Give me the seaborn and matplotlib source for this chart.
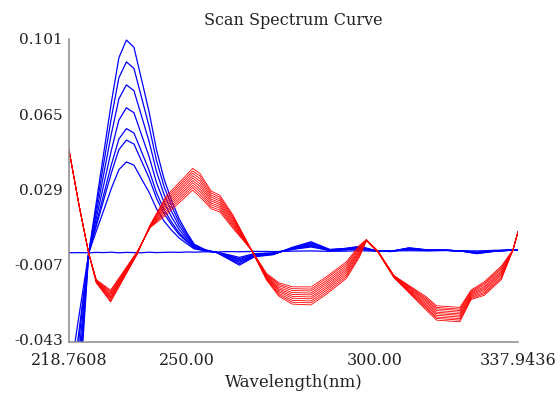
import matplotlib
matplotlib.use("Agg")
import matplotlib.pyplot as plt
import pandas as pd
import seaborn as sns

# ---------------- data ----------------
blue_wavelengths = [218.7608, 221, 224, 226, 228, 230, 232, 234, 236, 238, 240, 242, 244, 246, 248,
                    250, 252, 255, 258, 261, 264, 268, 273, 278, 283, 288, 292, 296, 300, 304,
                    309, 314, 319, 323, 327, 332, 337.9436]

blue_flat = [-0.0016, -0.0015, -0.0016, -0.0014, -0.0015, -0.0013, -0.0016, -0.0014, -0.0015, -0.0016,
             -0.0013, -0.0015, -0.0014, -0.0013, -0.0014, -0.0012, -0.0013, -0.0011, -0.0012, -0.0010,
             -0.0011, -0.0009, -0.0010, -0.0008, -0.0007, -0.0009, -0.0008, -0.0006, -0.0008, -0.0007,
             -0.0006, -0.0007, -0.0005, -0.0006, -0.0007, -0.0004, -0.0003]

blue_peaked = [
    [-0.150, -0.084, -0.0016, 0.0225, 0.0465, 0.0705, 0.0920, 0.1005, 0.0970, 0.0817, 0.0662, 0.0477,
     0.0338, 0.0234, 0.0147, 0.0082, 0.0025, -0.0002, -0.0015, -0.0045, -0.0075, -0.0035, -0.0025,
     0.0010, 0.0037, 0.0000, 0.0005, 0.0015, -0.0005, -0.0010, 0.0008, -0.0002, -0.0004, -0.0008,
     -0.0020, -0.0008, -0.0002],
    [-0.1347, -0.0755, -0.0016, 0.0200, 0.0416, 0.0631, 0.0824, 0.0900, 0.0869, 0.0731, 0.0592, 0.0426,
     0.0302, 0.0209, 0.0130, 0.0072, 0.0021, -0.0003, -0.0015, -0.0041, -0.0068, -0.0032, -0.0023,
     0.0008, 0.0032, -0.0001, 0.0004, 0.0013, -0.0005, -0.0010, 0.0007, -0.0003, -0.0004, -0.0008,
     -0.0019, -0.0008, -0.0002],
    [-0.1187, -0.0666, -0.0016, 0.0175, 0.0364, 0.0554, 0.0723, 0.0790, 0.0762, 0.0641, 0.0520, 0.0373,
     0.0264, 0.0182, 0.0113, 0.0062, 0.0017, -0.0004, -0.0014, -0.0038, -0.0061, -0.0030, -0.0022,
     0.0006, 0.0028, -0.0002, 0.0002, 0.0011, -0.0006, -0.0009, 0.0005, -0.0003, -0.0004, -0.0008,
     -0.0017, -0.0007, -0.0002],
    [-0.1027, -0.0577, -0.0016, 0.0149, 0.0312, 0.0476, 0.0621, 0.0680, 0.0656, 0.0551, 0.0447, 0.0320,
     0.0226, 0.0155, 0.0096, 0.0052, 0.0013, -0.0005, -0.0014, -0.0034, -0.0055, -0.0027, -0.0020,
     0.0004, 0.0023, -0.0003, 0.0001, 0.0008, -0.0006, -0.0009, 0.0004, -0.0004, -0.0004, -0.0007,
     -0.0016, -0.0007, -0.0002],
    [-0.0881, -0.0496, -0.0016, 0.0125, 0.0265, 0.0406, 0.0530, 0.0580, 0.0559, 0.0470, 0.0381, 0.0272,
     0.0191, 0.0131, 0.0080, 0.0043, 0.0009, -0.0006, -0.0014, -0.0030, -0.0048, -0.0024, -0.0019,
     0.0002, 0.0019, -0.0004, 0.0000, 0.0006, -0.0006, -0.0009, 0.0002, -0.0004, -0.0004, -0.0007,
     -0.0015, -0.0006, -0.0002],
    [-0.0801, -0.0451, -0.0016, 0.0112, 0.0239, 0.0367, 0.0479, 0.0525, 0.0506, 0.0425, 0.0344, 0.0245,
     0.0172, 0.0118, 0.0071, 0.0038, 0.0007, -0.0006, -0.0014, -0.0029, -0.0045, -0.0023, -0.0018,
     0.0002, 0.0016, -0.0004, -0.0001, 0.0005, -0.0006, -0.0009, 0.0001, -0.0004, -0.0004, -0.0007,
     -0.0014, -0.0006, -0.0002],
    [-0.0648, -0.0366, -0.0016, 0.0088, 0.0189, 0.0293, 0.0383, 0.0420, 0.0405, 0.0339, 0.0275, 0.0195,
     0.0136, 0.0092, 0.0055, 0.0028, 0.0003, -0.0007, -0.0013, -0.0025, -0.0038, -0.0020, -0.0016,
     0.0000, 0.0012, -0.0005, -0.0002, 0.0003, -0.0007, -0.0008, 0.0000, -0.0005, -0.0004, -0.0007,
     -0.0013, -0.0006, -0.0002],
]

red_wavelengths = [218.7608, 221.5, 224, 226, 229.8, 236.8, 240.3, 244.5, 251.6, 253.5, 256.5, 258.8,
                   262.3, 267.2, 271.2, 274.5, 278, 283, 287, 292.4, 295.9, 297.7, 300.8, 305,
                   313.6, 316.3, 322.5, 325.5, 329, 333.5, 336.6, 337.9436]

red_curves = [
    [0.0477, 0.0205, -0.0019, -0.0145, -0.0195, -0.0012, 0.0105, 0.0165, 0.0285, 0.0253, 0.0195, 0.0180,
     0.0101, -0.0003, -0.0115, -0.0160, -0.0179, -0.0180, -0.0132, -0.0059, 0.0021, 0.0047, -0.0008,
     -0.0125, -0.0227, -0.0270, -0.0278, -0.0195, -0.0155, -0.0080, -0.0003, 0.0085],
    [0.0477, 0.0205, -0.0019, -0.0147, -0.0201, -0.0013, 0.0106, 0.0175, 0.0297, 0.0265, 0.0204, 0.0189,
     0.0108, -0.0003, -0.0119, -0.0167, -0.0188, -0.0190, -0.0141, -0.0068, 0.0015, 0.0047, -0.0009,
     -0.0126, -0.0234, -0.0278, -0.0286, -0.0200, -0.0162, -0.0087, -0.0003, 0.0085],
    [0.0477, 0.0205, -0.0019, -0.0148, -0.0208, -0.0015, 0.0108, 0.0185, 0.0308, 0.0278, 0.0214, 0.0198,
     0.0115, -0.0003, -0.0122, -0.0174, -0.0197, -0.0199, -0.0151, -0.0077, 0.0009, 0.0046, -0.0009,
     -0.0127, -0.0241, -0.0285, -0.0293, -0.0205, -0.0169, -0.0094, -0.0003, 0.0085],
    [0.0477, 0.0205, -0.0019, -0.0150, -0.0214, -0.0016, 0.0109, 0.0195, 0.0320, 0.0290, 0.0223, 0.0207,
     0.0122, -0.0003, -0.0126, -0.0182, -0.0207, -0.0209, -0.0160, -0.0086, 0.0002, 0.0046, -0.0010,
     -0.0128, -0.0248, -0.0293, -0.0301, -0.0210, -0.0177, -0.0102, -0.0003, 0.0085],
    [0.0477, 0.0205, -0.0019, -0.0152, -0.0220, -0.0018, 0.0111, 0.0205, 0.0331, 0.0303, 0.0233, 0.0216,
     0.0129, -0.0003, -0.0129, -0.0189, -0.0216, -0.0218, -0.0169, -0.0095, -0.0004, 0.0045, -0.0011,
     -0.0129, -0.0255, -0.0301, -0.0309, -0.0215, -0.0184, -0.0109, -0.0003, 0.0085],
    [0.0477, 0.0205, -0.0019, -0.0153, -0.0227, -0.0019, 0.0112, 0.0215, 0.0343, 0.0315, 0.0242, 0.0224,
     0.0137, -0.0003, -0.0133, -0.0196, -0.0225, -0.0228, -0.0179, -0.0103, -0.0010, 0.0045, -0.0011,
     -0.0131, -0.0263, -0.0308, -0.0316, -0.0220, -0.0191, -0.0116, -0.0003, 0.0085],
    [0.0477, 0.0205, -0.0019, -0.0155, -0.0233, -0.0021, 0.0114, 0.0225, 0.0354, 0.0328, 0.0252, 0.0233,
     0.0144, -0.0003, -0.0136, -0.0203, -0.0234, -0.0237, -0.0188, -0.0112, -0.0016, 0.0044, -0.0012,
     -0.0132, -0.0270, -0.0316, -0.0324, -0.0225, -0.0198, -0.0123, -0.0003, 0.0085],
    [0.0477, 0.0205, -0.0019, -0.0157, -0.0239, -0.0022, 0.0115, 0.0235, 0.0366, 0.0340, 0.0261, 0.0242,
     0.0151, -0.0003, -0.0140, -0.0211, -0.0244, -0.0247, -0.0197, -0.0121, -0.0023, 0.0044, -0.0013,
     -0.0133, -0.0277, -0.0324, -0.0332, -0.0230, -0.0206, -0.0131, -0.0003, 0.0085],
    [0.0477, 0.0205, -0.0019, -0.0158, -0.0246, -0.0024, 0.0117, 0.0245, 0.0377, 0.0353, 0.0271, 0.0251,
     0.0158, -0.0003, -0.0143, -0.0218, -0.0253, -0.0256, -0.0207, -0.0130, -0.0029, 0.0043, -0.0013,
     -0.0134, -0.0284, -0.0331, -0.0339, -0.0235, -0.0213, -0.0138, -0.0003, 0.0085],
    [0.0477, 0.0205, -0.0019, -0.0160, -0.0252, -0.0025, 0.0118, 0.0255, 0.0389, 0.0365, 0.0280, 0.0260,
     0.0165, -0.0003, -0.0147, -0.0225, -0.0262, -0.0266, -0.0216, -0.0139, -0.0035, 0.0043, -0.0014,
     -0.0135, -0.0291, -0.0339, -0.0347, -0.0240, -0.0220, -0.0145, -0.0003, 0.0085],
]

y_ticks = [-0.043, -0.007, 0.029, 0.065, 0.101]
y_tick_labels = ["-0.043", "-0.007", "0.029", "0.065", "0.101"]
x_ticks = [218.7608, 250.0, 300.0, 337.9436]
x_tick_labels = ["218.7608", "250.00", "300.00", "337.9436"]

title_text = "Scan Spectrum Curve"
x_label_text = "Wavelength(nm)"


def long_form(wavelengths, curves, prefix):
    frames = []
    for i, vals in enumerate(curves):
        frames.append(pd.DataFrame({"wavelength": wavelengths, "value": vals,
                                    "curve": f"{prefix}{i}"}))
    return pd.concat(frames, ignore_index=True)


blue_df = long_form(blue_wavelengths, [blue_flat] + blue_peaked, "b")
red_df = long_form(red_wavelengths, red_curves, "r")

# ---------------- style ----------------
sns.set_style("white")
plt.rcParams["font.family"] = ["DejaVu Serif", "DejaVu Sans"]
text_color = "#222222"
axis_color = "#8a8a8a"

fig = plt.figure(figsize=(5.6, 3.93), dpi=100)
ax = fig.add_axes([69 / 560, 1 - 342 / 393, (518 - 69) / 560, (342 - 39) / 393])

sns.lineplot(data=blue_df, x="wavelength", y="value", units="curve", estimator=None,
             sort=False, color="#0000ff", linewidth=0.9, ax=ax)
sns.lineplot(data=red_df, x="wavelength", y="value", units="curve", estimator=None,
             sort=False, color="#ff0000", linewidth=0.6, ax=ax)

ax.set_xlim(218.7608, 337.9436)
ax.set_ylim(-0.0444, 0.101)

for side in ("top", "right"):
    ax.spines[side].set_visible(False)
for side in ("left", "bottom"):
    ax.spines[side].set_color(axis_color)
    ax.spines[side].set_linewidth(1.1)

ax.set_yticks(y_ticks)
ax.set_yticklabels(y_tick_labels)
ax.set_xticks(x_ticks)
ax.set_xticklabels(x_tick_labels)

ax.tick_params(axis="y", direction="in", length=8, width=1.1, color=axis_color,
               pad=4.5, labelsize=11, labelcolor=text_color)
ax.tick_params(axis="x", direction="out", length=5, width=1.1, color=axis_color,
               pad=2.5, labelsize=11.5, labelcolor=text_color)

ax.set_xlabel(x_label_text, fontsize=12, color=text_color, labelpad=3)
ax.set_ylabel("")
ax.set_title(title_text, fontsize=11.5, color=text_color, pad=10)

fig.savefig("out.png", dpi=100)
